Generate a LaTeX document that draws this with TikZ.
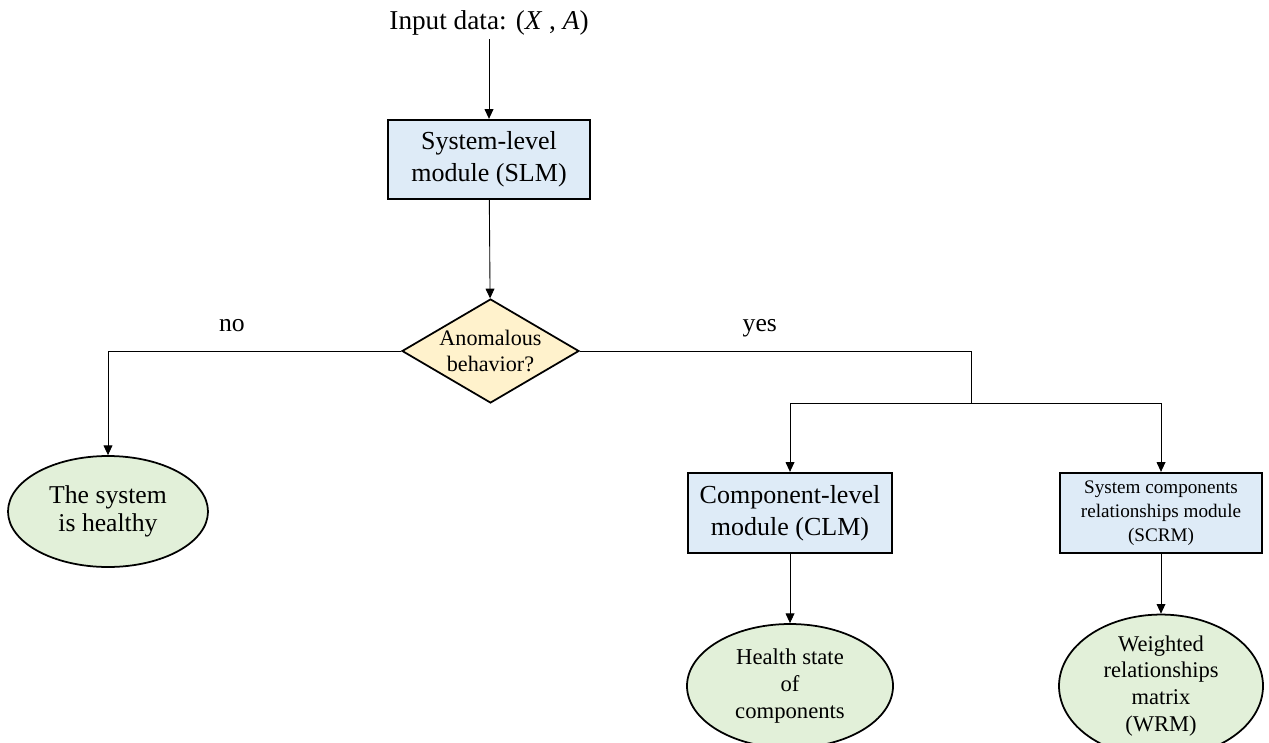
\documentclass[tikz,border=0pt]{standalone}
\usepackage{fontspec}
\setmainfont{Liberation Serif}
\usetikzlibrary{shapes.geometric,arrows.meta}

\definecolor{modblue}{HTML}{DEEBF7}
\definecolor{decyellow}{HTML}{FFF2CC}
\definecolor{resgreen}{HTML}{E2F0D9}

\tikzset{
    module/.style={draw,fill=modblue,line width=1.3pt,align=center,inner sep=2pt},
    decision/.style={diamond,draw,fill=decyellow,line width=1pt,align=center,inner sep=0pt,
        shape aspect=1.69,minimum width=3.54cm,minimum height=2.08cm},
    result/.style={ellipse,draw,fill=resgreen,line width=1pt,align=center,inner sep=0pt},
    flow/.style={->,line width=0.5pt,>={Triangle[length=5.5pt,width=5pt]}},
    link/.style={line width=0.5pt},
    fs/.style 2 args={font=\fontsize{#1}{#2}\selectfont}
}

\begin{document}
\begin{tikzpicture}
            \useasboundingbox (0, 0) rectangle (25.38, -14.84);

            \coordinate (B) at (2.16, -7.02);
            \coordinate (C) at (19.42, -7.02);
            \coordinate (D) at (19.42, -8.06);
            \coordinate (E) at (15.8, -8.06);
            \coordinate (F) at (23.22, -8.06);

            \node[fs={15.5}{18},inner sep=2pt] (IN) at (9.78, -0.46) {Input data: (\textit{X} , \textit{A})};
            \node[module,fs={14.8}{18},minimum width=4.04cm,minimum height=1.58cm] (SLM) at (9.78, -3.19)
                {System-level\\ module (SLM)};
            \node[decision,fs={12.6}{15}] (DEC) at (9.81, -7.02)
                {Anomalous\\ behavior?};
            \node[result,fs={14.6}{16},minimum width=4.0cm,minimum height=2.22cm] (OK) at (2.16, -10.23)
                {The system\\ is healthy};
            \node[module,fs={14.8}{18},minimum width=4.08cm,minimum height=1.6cm] (CLM) at (15.8, -10.26)
                {Component-level\\ module (CLM)};
            \node[module,fs={10.9}{13.6},minimum width=4.04cm,minimum height=1.6cm] (SCRM) at (23.22, -10.26)
                {System components\\ relationships module\\ (SCRM)};
            \node[result,fs={12.9}{15.3},minimum width=4.12cm,minimum height=2.48cm] (HS) at (15.8, -13.72)
                {Health state\\ of\\ components};
            \node[result,fs={12.8}{15.3},minimum width=4.08cm,minimum height=2.48cm] (WRM) at (23.22, -13.72)
                {Weighted\\ relationships\\ matrix\\ (WRM)};

            \draw[flow] (IN) -- (SLM);
            \draw[flow] (SLM) -- (DEC);
            \draw[flow] (DEC.west) -- node[pos=0.577,anchor=base,yshift=0.4cm,fs={14.6}{16}] {no} (B) -- (OK);
            \draw[link] (DEC.east) -- node[pos=0.46,anchor=base,yshift=0.4cm,fs={14.6}{16}] {yes} (C) -- (D);
            \draw[link] (E) -- (F);
            \draw[flow] (E) -- (CLM);
            \draw[flow] (F) -- (SCRM);
            \draw[flow] (CLM) -- (HS);
            \draw[flow] (SCRM) -- (WRM);

        \end{tikzpicture}
\end{document}
